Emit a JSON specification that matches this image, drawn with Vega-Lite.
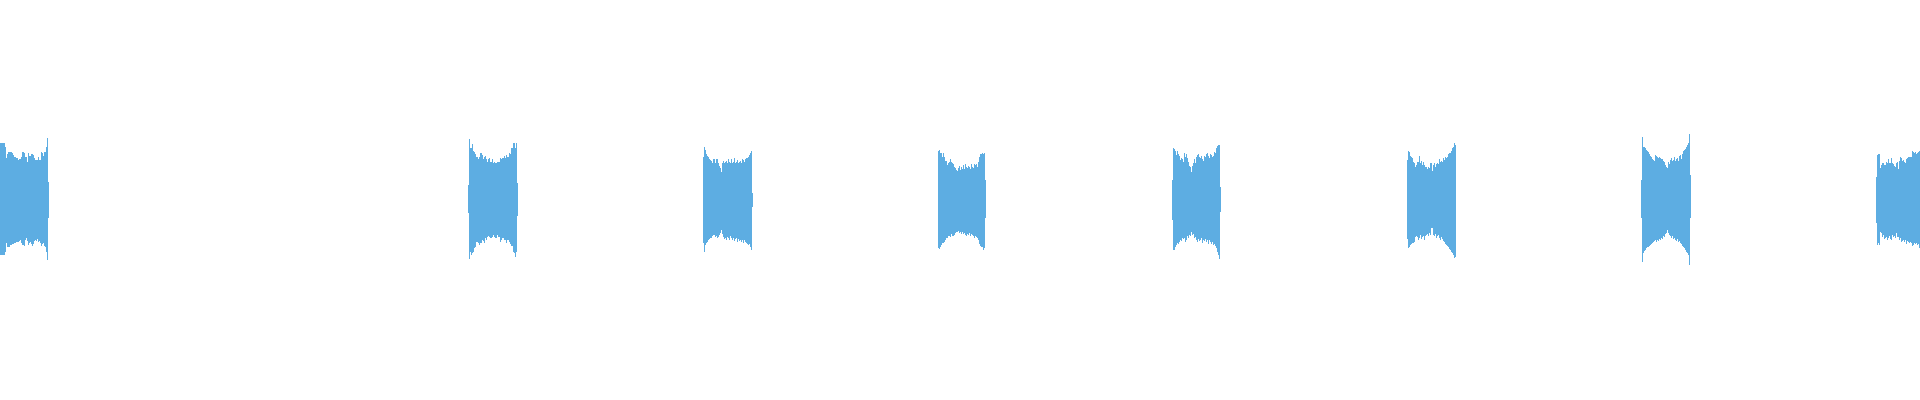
{
  "$schema": "https://vega.github.io/schema/vega-lite/v6.json",
  "width": 1920,
  "height": 400,
  "padding": 0,
  "autosize": {"type": "fit", "contains": "padding"},
  "background": "white",
  "config": {"view": {"stroke": null}},
  "data": {"values": [
    {"t":0,"hi":57,"lo":-55},{"t":1,"hi":57,"lo":-55},{"t":2,"hi":57,"lo":-55},{"t":3,"hi":57,"lo":-55},{"t":4,"hi":57,"lo":-55},
    {"t":5,"hi":53,"lo":-52},{"t":6,"hi":42,"lo":-43},{"t":7,"hi":46,"lo":-47},{"t":8,"hi":48,"lo":-47},{"t":9,"hi":48,"lo":-47},
    {"t":10,"hi":48,"lo":-45},{"t":11,"hi":48,"lo":-45},{"t":12,"hi":47,"lo":-44},{"t":13,"hi":45,"lo":-44},{"t":14,"hi":43,"lo":-43},
    {"t":15,"hi":43,"lo":-43},{"t":16,"hi":42,"lo":-42},{"t":17,"hi":42,"lo":-42},{"t":18,"hi":40,"lo":-42},{"t":19,"hi":41,"lo":-41},
    {"t":20,"hi":41,"lo":-40},{"t":21,"hi":43,"lo":-43},{"t":22,"hi":48,"lo":-45},{"t":23,"hi":48,"lo":-45},{"t":24,"hi":47,"lo":-46},
    {"t":25,"hi":43,"lo":-40},{"t":26,"hi":43,"lo":-38},{"t":27,"hi":38,"lo":-41},{"t":28,"hi":47,"lo":-45},{"t":29,"hi":44,"lo":-43},
    {"t":30,"hi":44,"lo":-42},{"t":31,"hi":46,"lo":-44},{"t":32,"hi":46,"lo":-46},{"t":33,"hi":45,"lo":-44},{"t":34,"hi":42,"lo":-41},
    {"t":35,"hi":40,"lo":-40},{"t":36,"hi":40,"lo":-41},{"t":37,"hi":40,"lo":-39},{"t":38,"hi":43,"lo":-42},{"t":39,"hi":40,"lo":-41},
    {"t":40,"hi":40,"lo":-43},{"t":41,"hi":48,"lo":-46},{"t":42,"hi":47,"lo":-44},{"t":43,"hi":44,"lo":-43},{"t":44,"hi":48,"lo":-46},
    {"t":45,"hi":48,"lo":-47},{"t":46,"hi":53,"lo":-52},{"t":47,"hi":62,"lo":-60},{"t":48,"hi":18,"lo":-18},

    {"t":468,"hi":15,"lo":-13},{"t":469,"hi":61,"lo":-59},{"t":470,"hi":52,"lo":-52},{"t":471,"hi":52,"lo":-55},{"t":472,"hi":56,"lo":-53},
    {"t":473,"hi":49,"lo":-52},{"t":474,"hi":48,"lo":-48},{"t":475,"hi":46,"lo":-47},{"t":476,"hi":43,"lo":-42},{"t":477,"hi":43,"lo":-42},
    {"t":478,"hi":41,"lo":-43},{"t":479,"hi":43,"lo":-45},{"t":480,"hi":47,"lo":-43},{"t":481,"hi":47,"lo":-43},{"t":482,"hi":45,"lo":-40},
    {"t":483,"hi":41,"lo":-41},{"t":484,"hi":43,"lo":-43},{"t":485,"hi":44,"lo":-38},{"t":486,"hi":41,"lo":-40},{"t":487,"hi":38,"lo":-37},
    {"t":488,"hi":41,"lo":-36},{"t":489,"hi":42,"lo":-37},{"t":490,"hi":38,"lo":-38},{"t":491,"hi":38,"lo":-38},{"t":492,"hi":41,"lo":-37},
    {"t":493,"hi":37,"lo":-35},{"t":494,"hi":38,"lo":-37},{"t":495,"hi":37,"lo":-38},{"t":496,"hi":37,"lo":-38},{"t":497,"hi":38,"lo":-35},
    {"t":498,"hi":38,"lo":-37},{"t":499,"hi":38,"lo":-37},{"t":500,"hi":42,"lo":-42},{"t":501,"hi":41,"lo":-40},{"t":502,"hi":42,"lo":-38},
    {"t":503,"hi":42,"lo":-38},{"t":504,"hi":44,"lo":-40},{"t":505,"hi":42,"lo":-40},{"t":506,"hi":45,"lo":-43},{"t":507,"hi":43,"lo":-40},
    {"t":508,"hi":43,"lo":-40},{"t":509,"hi":47,"lo":-42},{"t":510,"hi":46,"lo":-44},{"t":511,"hi":52,"lo":-46},{"t":512,"hi":52,"lo":-46},
    {"t":513,"hi":57,"lo":-52},{"t":514,"hi":57,"lo":-53},{"t":515,"hi":52,"lo":-57},{"t":516,"hi":57,"lo":-52},{"t":517,"hi":17,"lo":-16},

    {"t":703,"hi":43,"lo":-43},{"t":704,"hi":53,"lo":-52},{"t":705,"hi":50,"lo":-45},{"t":706,"hi":46,"lo":-43},{"t":707,"hi":44,"lo":-42},
    {"t":708,"hi":43,"lo":-40},{"t":709,"hi":41,"lo":-39},{"t":710,"hi":40,"lo":-38},{"t":711,"hi":39,"lo":-38},{"t":712,"hi":37,"lo":-36},
    {"t":713,"hi":41,"lo":-35},{"t":714,"hi":41,"lo":-35},{"t":715,"hi":37,"lo":-37},{"t":716,"hi":41,"lo":-36},{"t":717,"hi":41,"lo":-38},
    {"t":718,"hi":37,"lo":-37},{"t":719,"hi":34,"lo":-35},{"t":720,"hi":32,"lo":-33},{"t":721,"hi":28,"lo":-30},{"t":722,"hi":37,"lo":-34},
    {"t":723,"hi":39,"lo":-37},{"t":724,"hi":37,"lo":-39},{"t":725,"hi":38,"lo":-38},{"t":726,"hi":39,"lo":-40},{"t":727,"hi":37,"lo":-37},
    {"t":728,"hi":41,"lo":-38},{"t":729,"hi":38,"lo":-40},{"t":730,"hi":37,"lo":-36},{"t":731,"hi":41,"lo":-38},{"t":732,"hi":37,"lo":-40},
    {"t":733,"hi":38,"lo":-38},{"t":734,"hi":42,"lo":-41},{"t":735,"hi":37,"lo":-39},{"t":736,"hi":38,"lo":-38},{"t":737,"hi":40,"lo":-42},
    {"t":738,"hi":37,"lo":-39},{"t":739,"hi":38,"lo":-41},{"t":740,"hi":39,"lo":-40},{"t":741,"hi":37,"lo":-42},{"t":742,"hi":41,"lo":-40},
    {"t":743,"hi":40,"lo":-43},{"t":744,"hi":38,"lo":-40},{"t":745,"hi":41,"lo":-42},{"t":746,"hi":42,"lo":-43},{"t":747,"hi":42,"lo":-44},
    {"t":748,"hi":43,"lo":-45},{"t":749,"hi":45,"lo":-44},{"t":750,"hi":47,"lo":-47},{"t":751,"hi":49,"lo":-50},{"t":752,"hi":7,"lo":-7},

    {"t":938,"hi":49,"lo":-48},{"t":939,"hi":50,"lo":-49},{"t":940,"hi":47,"lo":-47},{"t":941,"hi":47,"lo":-45},{"t":942,"hi":43,"lo":-43},
    {"t":943,"hi":47,"lo":-43},{"t":944,"hi":43,"lo":-42},{"t":945,"hi":39,"lo":-40},{"t":946,"hi":39,"lo":-38},{"t":947,"hi":35,"lo":-38},
    {"t":948,"hi":37,"lo":-36},{"t":949,"hi":38,"lo":-36},{"t":950,"hi":41,"lo":-37},{"t":951,"hi":38,"lo":-34},{"t":952,"hi":37,"lo":-36},
    {"t":953,"hi":36,"lo":-36},{"t":954,"hi":33,"lo":-35},{"t":955,"hi":32,"lo":-33},{"t":956,"hi":30,"lo":-32},{"t":957,"hi":29,"lo":-32},
    {"t":958,"hi":32,"lo":-31},{"t":959,"hi":34,"lo":-33},{"t":960,"hi":30,"lo":-32},{"t":961,"hi":33,"lo":-34},{"t":962,"hi":31,"lo":-32},
    {"t":963,"hi":35,"lo":-34},{"t":964,"hi":31,"lo":-33},{"t":965,"hi":36,"lo":-35},{"t":966,"hi":33,"lo":-36},{"t":967,"hi":32,"lo":-34},
    {"t":968,"hi":34,"lo":-35},{"t":969,"hi":33,"lo":-33},{"t":970,"hi":31,"lo":-36},{"t":971,"hi":36,"lo":-34},{"t":972,"hi":33,"lo":-35},
    {"t":973,"hi":32,"lo":-36},{"t":974,"hi":36,"lo":-38},{"t":975,"hi":35,"lo":-36},{"t":976,"hi":36,"lo":-37},{"t":977,"hi":33,"lo":-38},
    {"t":978,"hi":38,"lo":-40},{"t":979,"hi":43,"lo":-44},{"t":980,"hi":46,"lo":-46},{"t":981,"hi":46,"lo":-47},{"t":982,"hi":47,"lo":-47},
    {"t":983,"hi":46,"lo":-50},{"t":984,"hi":47,"lo":-48},{"t":985,"hi":20,"lo":-18},

    {"t":1172,"hi":20,"lo":-20},{"t":1173,"hi":52,"lo":-50},{"t":1174,"hi":51,"lo":-50},{"t":1175,"hi":49,"lo":-47},{"t":1176,"hi":45,"lo":-45},
    {"t":1177,"hi":49,"lo":-43},{"t":1178,"hi":46,"lo":-44},{"t":1179,"hi":44,"lo":-42},{"t":1180,"hi":40,"lo":-40},{"t":1181,"hi":42,"lo":-41},
    {"t":1182,"hi":41,"lo":-38},{"t":1183,"hi":38,"lo":-39},{"t":1184,"hi":47,"lo":-38},{"t":1185,"hi":43,"lo":-42},{"t":1186,"hi":46,"lo":-40},
    {"t":1187,"hi":42,"lo":-36},{"t":1188,"hi":38,"lo":-38},{"t":1189,"hi":34,"lo":-35},{"t":1190,"hi":33,"lo":-36},{"t":1191,"hi":28,"lo":-32},
    {"t":1192,"hi":34,"lo":-35},{"t":1193,"hi":37,"lo":-34},{"t":1194,"hi":41,"lo":-38},{"t":1195,"hi":37,"lo":-37},{"t":1196,"hi":43,"lo":-40},
    {"t":1197,"hi":45,"lo":-42},{"t":1198,"hi":46,"lo":-39},{"t":1199,"hi":43,"lo":-41},{"t":1200,"hi":42,"lo":-40},{"t":1201,"hi":44,"lo":-38},
    {"t":1202,"hi":41,"lo":-43},{"t":1203,"hi":39,"lo":-40},{"t":1204,"hi":44,"lo":-41},{"t":1205,"hi":43,"lo":-39},{"t":1206,"hi":46,"lo":-42},
    {"t":1207,"hi":47,"lo":-40},{"t":1208,"hi":44,"lo":-44},{"t":1209,"hi":42,"lo":-40},{"t":1210,"hi":46,"lo":-42},{"t":1211,"hi":45,"lo":-44},
    {"t":1212,"hi":43,"lo":-42},{"t":1213,"hi":44,"lo":-45},{"t":1214,"hi":48,"lo":-44},{"t":1215,"hi":47,"lo":-46},{"t":1216,"hi":52,"lo":-48},
    {"t":1217,"hi":54,"lo":-52},{"t":1218,"hi":55,"lo":-55},{"t":1219,"hi":55,"lo":-59},{"t":1220,"hi":13,"lo":-12},

    {"t":1407,"hi":40,"lo":-39},{"t":1408,"hi":49,"lo":-48},{"t":1409,"hi":48,"lo":-47},{"t":1410,"hi":44,"lo":-45},{"t":1411,"hi":43,"lo":-44},
    {"t":1412,"hi":42,"lo":-43},{"t":1413,"hi":38,"lo":-43},{"t":1414,"hi":37,"lo":-42},{"t":1415,"hi":33,"lo":-37},{"t":1416,"hi":35,"lo":-36},
    {"t":1417,"hi":38,"lo":-37},{"t":1418,"hi":38,"lo":-40},{"t":1419,"hi":44,"lo":-38},{"t":1420,"hi":37,"lo":-35},{"t":1421,"hi":39,"lo":-39},
    {"t":1422,"hi":35,"lo":-37},{"t":1423,"hi":38,"lo":-36},{"t":1424,"hi":35,"lo":-40},{"t":1425,"hi":33,"lo":-36},{"t":1426,"hi":33,"lo":-35},
    {"t":1427,"hi":31,"lo":-34},{"t":1428,"hi":33,"lo":-36},{"t":1429,"hi":32,"lo":-33},{"t":1430,"hi":37,"lo":-35},{"t":1431,"hi":37,"lo":-28},
    {"t":1432,"hi":29,"lo":-28},{"t":1433,"hi":35,"lo":-35},{"t":1434,"hi":37,"lo":-36},{"t":1435,"hi":33,"lo":-34},{"t":1436,"hi":36,"lo":-38},
    {"t":1437,"hi":37,"lo":-36},{"t":1438,"hi":36,"lo":-35},{"t":1439,"hi":41,"lo":-38},{"t":1440,"hi":38,"lo":-40},{"t":1441,"hi":39,"lo":-37},
    {"t":1442,"hi":38,"lo":-39},{"t":1443,"hi":42,"lo":-41},{"t":1444,"hi":40,"lo":-42},{"t":1445,"hi":43,"lo":-44},{"t":1446,"hi":42,"lo":-45},
    {"t":1447,"hi":43,"lo":-46},{"t":1448,"hi":46,"lo":-47},{"t":1449,"hi":47,"lo":-49},{"t":1450,"hi":47,"lo":-50},{"t":1451,"hi":49,"lo":-52},
    {"t":1452,"hi":52,"lo":-53},{"t":1453,"hi":53,"lo":-55},{"t":1454,"hi":57,"lo":-58},{"t":1455,"hi":55,"lo":-57},

    {"t":1641,"hi":20,"lo":-18},{"t":1642,"hi":63,"lo":-62},{"t":1643,"hi":53,"lo":-53},{"t":1644,"hi":53,"lo":-51},{"t":1645,"hi":52,"lo":-50},
    {"t":1646,"hi":50,"lo":-48},{"t":1647,"hi":49,"lo":-47},{"t":1648,"hi":48,"lo":-47},{"t":1649,"hi":46,"lo":-46},{"t":1650,"hi":44,"lo":-45},
    {"t":1651,"hi":43,"lo":-44},{"t":1652,"hi":41,"lo":-43},{"t":1653,"hi":40,"lo":-42},{"t":1654,"hi":39,"lo":-41},{"t":1655,"hi":45,"lo":-40},
    {"t":1656,"hi":44,"lo":-42},{"t":1657,"hi":43,"lo":-40},{"t":1658,"hi":42,"lo":-41},{"t":1659,"hi":43,"lo":-39},{"t":1660,"hi":42,"lo":-40},
    {"t":1661,"hi":41,"lo":-38},{"t":1662,"hi":41,"lo":-39},{"t":1663,"hi":39,"lo":-36},{"t":1664,"hi":38,"lo":-37},{"t":1665,"hi":35,"lo":-34},
    {"t":1666,"hi":33,"lo":-33},{"t":1667,"hi":32,"lo":-30},{"t":1668,"hi":38,"lo":-33},{"t":1669,"hi":36,"lo":-35},{"t":1670,"hi":40,"lo":-36},
    {"t":1671,"hi":42,"lo":-38},{"t":1672,"hi":39,"lo":-36},{"t":1673,"hi":40,"lo":-39},{"t":1674,"hi":43,"lo":-38},{"t":1675,"hi":39,"lo":-40},
    {"t":1676,"hi":41,"lo":-41},{"t":1677,"hi":42,"lo":-39},{"t":1678,"hi":39,"lo":-42},{"t":1679,"hi":44,"lo":-41},{"t":1680,"hi":45,"lo":-43},
    {"t":1681,"hi":41,"lo":-44},{"t":1682,"hi":46,"lo":-46},{"t":1683,"hi":49,"lo":-47},{"t":1684,"hi":50,"lo":-48},{"t":1685,"hi":51,"lo":-50},
    {"t":1686,"hi":53,"lo":-52},{"t":1687,"hi":55,"lo":-53},{"t":1688,"hi":57,"lo":-55},{"t":1689,"hi":66,"lo":-65},{"t":1690,"hi":25,"lo":-18},

    {"t":1876,"hi":23,"lo":-23},{"t":1877,"hi":45,"lo":-45},{"t":1878,"hi":46,"lo":-43},{"t":1879,"hi":46,"lo":-45},{"t":1880,"hi":32,"lo":-32},
    {"t":1881,"hi":35,"lo":-33},{"t":1882,"hi":37,"lo":-37},{"t":1883,"hi":37,"lo":-35},{"t":1884,"hi":35,"lo":-39},{"t":1885,"hi":35,"lo":-38},
    {"t":1886,"hi":38,"lo":-37},{"t":1887,"hi":37,"lo":-40},{"t":1888,"hi":41,"lo":-38},{"t":1889,"hi":37,"lo":-36},{"t":1890,"hi":37,"lo":-39},
    {"t":1891,"hi":42,"lo":-40},{"t":1892,"hi":37,"lo":-35},{"t":1893,"hi":36,"lo":-37},{"t":1894,"hi":34,"lo":-36},{"t":1895,"hi":33,"lo":-38},
    {"t":1896,"hi":37,"lo":-33},{"t":1897,"hi":38,"lo":-37},{"t":1898,"hi":31,"lo":-37},{"t":1899,"hi":39,"lo":-40},{"t":1900,"hi":43,"lo":-38},
    {"t":1901,"hi":42,"lo":-42},{"t":1902,"hi":39,"lo":-41},{"t":1903,"hi":40,"lo":-40},{"t":1904,"hi":38,"lo":-42},{"t":1905,"hi":37,"lo":-40},
    {"t":1906,"hi":41,"lo":-44},{"t":1907,"hi":42,"lo":-41},{"t":1908,"hi":43,"lo":-42},{"t":1909,"hi":43,"lo":-43},{"t":1910,"hi":43,"lo":-42},
    {"t":1911,"hi":43,"lo":-43},{"t":1912,"hi":49,"lo":-46},{"t":1913,"hi":48,"lo":-45},{"t":1914,"hi":47,"lo":-43},{"t":1915,"hi":48,"lo":-44},
    {"t":1916,"hi":46,"lo":-43},{"t":1917,"hi":47,"lo":-45},{"t":1918,"hi":48,"lo":-44},{"t":1919,"hi":49,"lo":-48}
  ]},
  "mark": {"type": "rule", "color": "#5DADE2", "strokeWidth": 1},
  "encoding": {
    "x": {"field": "t", "type": "quantitative", "scale": {"domain": [-0.5, 1919.5], "nice": false, "zero": false}, "axis": null},
    "y": {"field": "lo", "type": "quantitative", "scale": {"domain": [-200, 200], "nice": false}, "axis": null},
    "y2": {"field": "hi"}
  }
}
